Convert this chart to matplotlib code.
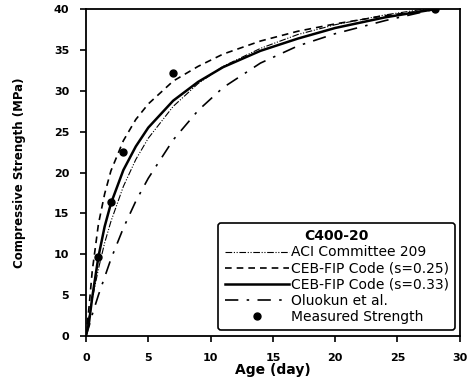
import numpy as np
from matplotlib import pyplot as plt

# age (day) at which the curves were read
days = [0, 0.25, 0.5, 1, 1.5, 2, 3, 4, 5, 7, 9, 11, 14, 17, 20, 24, 28]

aci_209 = [0, 2.4, 4.5, 8.2, 11.4, 14.0, 18.3, 21.6, 24.2, 28.1, 30.9, 33.0, 35.2, 36.9, 38.1, 39.3, 40.2]
ceb_025 = [0, 3.6, 7.9, 13.7, 17.4, 20.2, 23.9, 26.5, 28.4, 31.2, 33.0, 34.5, 36.1, 37.3, 38.2, 39.2, 40.0]
ceb_033 = [0, 1.7, 4.7, 9.7, 13.4, 16.2, 20.3, 23.2, 25.5, 28.8, 31.1, 32.9, 34.9, 36.4, 37.7, 39.0, 40.0]
oluokun = [0, 1.2, 2.6, 5.0, 7.2, 9.4, 13.2, 16.5, 19.3, 24.0, 27.6, 30.4, 33.4, 35.5, 37.0, 38.6, 40.0]

meas_days = [1, 2, 3, 7, 28]
meas_str = [9.7, 16.4, 22.5, 32.2, 40.0]

fig = plt.figure(figsize=(4.75, 3.83), dpi=100)
ax = fig.add_axes([0.181, 0.123, 0.787, 0.853])

ax.plot(days, aci_209, color='black', lw=0.8, ls=(0, (6, 1.5, 1, 1.5, 1, 1.5)), label='ACI Committee 209')
ax.plot(days, ceb_025, color='black', lw=1.2, ls=(0, (4, 3)), label='CEB-FIP Code (s=0.25)')
ax.plot(days, ceb_033, color='black', lw=1.8, ls='-', label='CEB-FIP Code (s=0.33)')
ax.plot(days, oluokun, color='black', lw=1.2, ls=(0, (8, 5, 1.5, 5)), label='Oluokun et al.')
ax.plot(meas_days, meas_str, 'o', color='black', ms=5, label='Measured Strength')

ax.set_xlim(0, 30)
ax.set_ylim(0, 40)
ax.set_xticks(range(0, 31, 5))
ax.set_yticks(range(0, 41, 5))
ax.tick_params(direction='out', length=4, width=1.2, labelsize=8, pad=8)
for lab in ax.get_xticklabels() + ax.get_yticklabels():
    lab.set_fontweight('bold')
for sp in ax.spines.values():
    sp.set_linewidth(1.3)

ax.set_xlabel('Age (day)', fontsize=10, fontweight='bold', labelpad=0)
ax.set_ylabel('Compressive Strength (MPa)', fontsize=8.5, fontweight='bold', labelpad=20)

leg = ax.legend(loc='lower right', title='C400-20', fontsize=10, frameon=True,
                fancybox=True, edgecolor='black', handlelength=4.6,
                borderpad=0.45, labelspacing=0.15, handletextpad=0.15,
                borderaxespad=0, bbox_to_anchor=(0.987, 0.018))
leg.get_title().set_fontweight('bold')
leg.get_title().set_fontsize(10)
leg.get_frame().set_linewidth(1.2)
leg.get_frame().set_alpha(1)

plt.savefig('out.png', dpi=100)
